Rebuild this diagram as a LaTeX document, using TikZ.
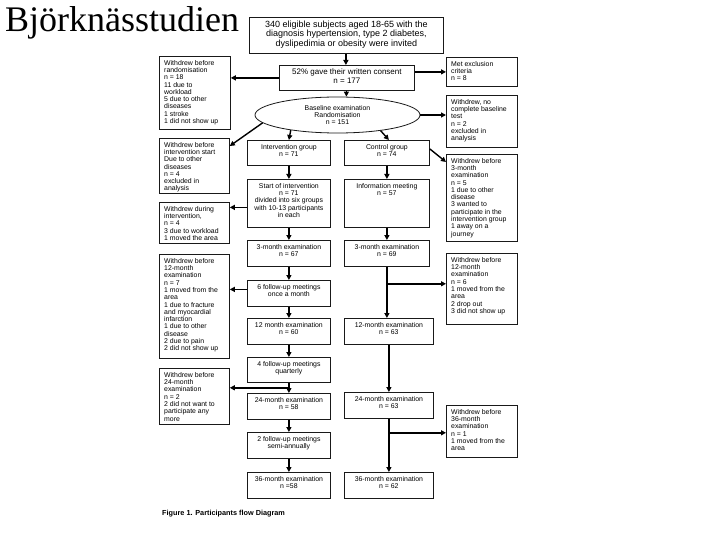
\documentclass[tikz,border=0pt]{standalone}
\usepackage{fontspec}
\setmainfont{Liberation Sans}
\newfontfamily\titlefont{Liberation Serif}
\usetikzlibrary{arrows.meta,shapes.geometric}
\newcommand\bx[5]{\node[boxsty, minimum width={(#4-#2)*1pt}, minimum height={(#5-#3)*1pt}] (#1) at (#2,#3) {};}
\newcommand\lt[2]{\node[txt, anchor=north west, align=left] (#1t) at ([shift={(5,4)}]#1.north west) {#2};}
\newcommand\ct[2]{\node[txt, anchor=north, align=center] (#1t) at ([shift={(0,4)}]#1.north) {#2};}
\begin{document}
\begin{tikzpicture}[x=1pt,y=-1pt,
  boxsty/.style={draw=black!90, line width=0.8pt, anchor=north west, inner sep=0pt},
  txt/.style={font=\fontsize{6.9}{7.3}\selectfont, text=black, inner sep=0pt},
  bigtxt/.style={font=\fontsize{9}{9.2}\selectfont},
  midtxt/.style={font=\fontsize{8}{8.5}\selectfont},
  arr/.style={line width=1.4pt, -{Triangle[length=5pt,width=5pt]}},
  ln/.style={line width=1.4pt}]
\fill[white] (0,0) rectangle (720,540);
\useasboundingbox (0,0) rectangle (720,540);

\node[anchor=base west, inner sep=0pt, font=\titlefont\fontsize{36}{36}\selectfont] (title) at (5,32) {Björknässtudien};

% boxes
\bx{top}{249}{17}{443}{53}
\bx{cons}{279}{65}{414}{90}
\bx{L1}{159}{56}{230}{129}
\bx{L2}{159}{138}{229}{193}
\bx{L3}{159}{202}{229}{243}
\bx{L4}{159}{254}{229}{358}
\bx{L5}{159}{368}{229}{424}
\bx{R1}{446}{57}{517}{86}
\bx{R2}{446}{95}{517}{147}
\bx{R3}{446}{154}{517}{241}
\bx{R4}{446}{253}{517}{324}
\bx{R5}{446}{405}{517}{457}
\bx{ig}{247}{140}{330}{165}
\bx{cg}{344}{140}{429}{165}
\bx{si}{247}{179}{330}{227}
\bx{im}{344}{179}{429}{227}
\bx{iiii}{247}{240}{330}{266}
\bx{ciii}{344}{240}{429}{266}
\bx{fvi}{247}{280}{330}{306}
\bx{ixii}{247}{318}{330}{344}
\bx{cxii}{344}{318}{433}{344}
\bx{fiv}{247}{357}{330}{382}
\bx{ixxiv}{247}{393}{330}{419}
\bx{cxxiv}{344}{392}{433}{418}
\bx{fii}{247}{432}{330}{458}
\bx{ixxxvi}{247}{472}{330}{498}
\bx{cxxxvi}{344}{472}{433}{498}

\node[draw=black!90, line width=0.8pt, ellipse, minimum width=165pt, minimum height=36pt, inner sep=0pt, txt, align=center] (ell) at (337.5,115) {Baseline examination\\Randomisation\\n = 151};

% texts
\node[txt, bigtxt, anchor=north, align=center] (topt) at ([shift={(0,4)}]top.north) {340 eligible subjects aged 18-65 with the\\diagnosis hypertension, type 2 diabetes,\\dyslipedimia or obesity were invited};
\node[txt, midtxt, anchor=north, align=center] (const) at ([shift={(0,4)}]cons.north) {52\% gave their written consent\\n = 177};
\lt{L1}{Withdrew before\\randomisation\\n = 18\\11 due to\\workload\\5 due to other\\diseases\\1 stroke\\1 did not show up}
\lt{L2}{Withdrew before\\intervention start\\Due to other\\diseases\\n = 4\\excluded in\\analysis}
\lt{L3}{Withdrew during\\intervention,\\n = 4\\3 due to workload\\1 moved the area}
\lt{L4}{Withdrew before\\12-month\\examination\\n = 7\\1 moved from the\\area\\1 due to fracture\\and myocardial\\infarction\\1 due to other\\disease\\2 due to pain\\2 did not show up}
\lt{L5}{Withdrew before\\24-month\\examination\\n = 2\\2 did not want to\\participate any\\more}
\lt{R1}{Met exclusion\\criteria\\n = 8}
\lt{R2}{Withdrew, no\\complete baseline\\test\\n = 2\\excluded in\\analysis}
\lt{R3}{Withdrew before\\3-month\\examination\\n = 5\\1 due to other\\disease\\3 wanted to\\participate in the\\intervention group\\1 away on a\\journey}
\lt{R4}{Withdrew before\\12-month\\examination\\n = 6\\1 moved from the\\area\\2 drop out\\3 did not show up}
\lt{R5}{Withdrew before\\36-month\\examination\\n = 1\\1 moved from the\\area}
\ct{ig}{Intervention group\\n = 71}
\ct{cg}{Control group\\n = 74}
\ct{si}{Start of intervention\\n = 71\\divided into six groups\\with 10-13 participants\\in each}
\ct{im}{Information meeting\\n = 57}
\ct{iiii}{3-month examination\\n = 67}
\ct{ciii}{3-month examination\\n = 69}
\ct{fvi}{6 follow-up meetings\\once a month}
\ct{ixii}{12 month examination\\n = 60}
\ct{cxii}{12-month examination\\n = 63}
\ct{fiv}{4 follow-up meetings\\quarterly}
\ct{ixxiv}{24-month examination\\n = 58}
\ct{cxxiv}{24-month examination\\n = 63}
\ct{fii}{2 follow-up meetings\\semi-annually}
\ct{ixxxvi}{36-month examination\\n =58}
\ct{cxxxvi}{36-month examination\\n = 62}

\node[anchor=base west, inner sep=0pt, font=\bfseries\fontsize{7.3}{8}\selectfont, text=black] (cap) at (162,515.5) {Figure 1. Participants flow Diagram};

% connectors
\draw[arr] ([xshift=-0.5pt]top.south) -- ([xshift=-0.5pt]top.south |- cons.north);
\draw[arr] (cons.west) -- (cons.west -| L1.east);
\draw[arr] (cons.east |- R1.west) -- (R1.west);
\draw[arr] ([xshift=-0.5pt]cons.south) -- ([xshift=-0.5pt]cons.south |- ell.north);
\draw[arr] (ell.east) -- (ell.east -| R2.west);
\draw[arr] (ell.186) -- ([shift={(0,8)}]L2.north east);
\draw[arr] (ell.198) -- (ig.north);
\draw[arr] (ell.340) -- ([xshift=2pt]cg.north);
\draw[arr] ([yshift=4pt]cg.east) -- ([shift={(0,8)}]R3.north west);
\draw[arr] (ig.south) -- (si.north);
\draw[arr] (cg.south) -- (im.north);
\draw[arr] ([yshift=-4pt]si.west) -- ([yshift=-4pt]si.west -| L3.east);
\draw[arr] (si.south) -- (iiii.north);
\draw[arr] (im.south) -- (ciii.north);
\draw[arr] (iiii.south) -- (fvi.north);
\draw[arr] ([yshift=4pt]fvi.west) -- ([yshift=4pt]fvi.west -| L4.east);
\draw[arr] (fvi.south) -- (ixii.north);
\draw[arr] (ixii.south) -- (fiv.north);
\draw[arr] (fiv.south) -- (ixxiv.north);
\coordinate (bxxiv) at ([yshift=-5pt]fiv.south);
\draw[arr] (bxxiv) -- (bxxiv -| L5.east);
\draw[arr] (ixxiv.south) -- (fii.north);
\draw[arr] (fii.south) -- (ixxxvi.north);
\draw[arr] (ciii.south) -- (ciii.south |- cxii.north);
\coordinate (bxii) at ([yshift=-17pt]ciii.south);
\draw[arr] (bxii) -- (bxii -| R4.west);
\draw[arr] (cxii.south) -- (cxii.south |- cxxiv.north);
\draw[arr] (cxxiv.south) -- (cxxiv.south |- cxxxvi.north);
\coordinate (bxxxvi) at ([yshift=-14pt]cxxiv.south);
\draw[arr] (bxxxvi) -- (bxxxvi -| R5.west);
\end{tikzpicture}
\end{document}
